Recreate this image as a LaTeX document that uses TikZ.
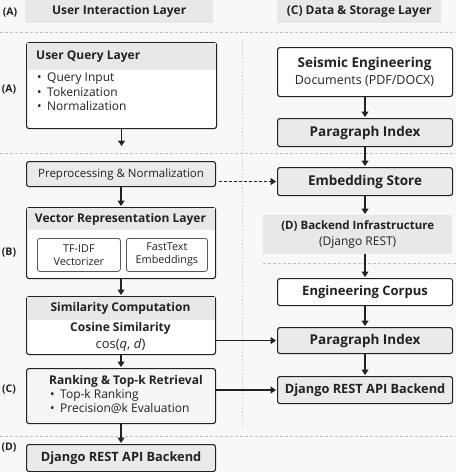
\documentclass[tikz,border=0pt]{standalone}
\usepackage{fontspec}
\setmainfont{Open Sans}
\usetikzlibrary{arrows.meta,positioning,calc}
\definecolor{ink}{RGB}{34,34,34}
\definecolor{paper}{RGB}{248,248,248}
\definecolor{band}{RGB}{232,232,232}
\definecolor{boxgray}{RGB}{234,234,234}
\definecolor{boxlight}{RGB}{245,245,245}
\definecolor{rulegray}{RGB}{192,192,192}
\newcommand{\bulitem}{\makebox[10pt][l]{\textbullet}}
\newcommand{\fsz}[1]{\fontsize{#1}{1.2\dimexpr#1pt\relax}\selectfont}
\tikzset{
  flow/.style={line width=1.2pt,ink,shorten >=1pt,-{Triangle[length=5.5pt,width=7pt]}},
  link/.style={flow,dash pattern=on 3pt off 2pt},
  divider/.style={rulegray,thin,dash pattern=on 3pt off 2pt},
  colrule/.style={rulegray!80,thin,dash pattern=on 1.5pt off 2pt},
  heading/.style={fill=band,inner sep=0pt,anchor=north west,text=ink,
    font=\bfseries\fsz{12}},
  tag/.style={text=ink,font=\bfseries\fsz{10.5}},
  box/.style={draw=ink,line width=1.1pt,rounded corners=2.5pt,fill=white,
    inner sep=0pt,anchor=north west,align=center,text=ink},
  graybox/.style={box,fill=boxgray},
  inbox/.style={box,draw=ink!75,line width=0.8pt,font=\fontsize{10.8}{13}\selectfont},
  title/.style={text=ink,inner sep=0pt,font=\bfseries\fsz{12}},
  bigtitle/.style={font=\bfseries\fsz{13.5}},
  body/.style={text=ink,inner sep=0pt,align=left,font=\fontsize{12}{14.5}\selectfont}
}
\begin{document}
\begin{tikzpicture}[x=1pt,y=-1pt]
  \fill[paper] (0,0) rectangle (456,472);
  \useasboundingbox (0,0) rectangle (456,472);
  % layer headings and dividers
  \node[tag] (tagtop) at (10,13) {(A)};
  \node[heading,minimum width=188pt,minimum height=23pt] (userhead) at (25,0) {User Interaction Layer};
  \node[heading,minimum width=164pt,minimum height=23pt] (datahead) at (277,0) {(C) Data \& Storage Layer};
  \draw[divider] (0,32) -- (456,32);
  \draw[divider] (0,153) -- (456,153);
  \draw[divider] (263,263) -- (456,263);
  \draw[divider] (0,436) -- (456,436);
  \draw[colrule] (242,40) -- (242,427);
  % user interaction column
  \node[box,minimum width=190pt,minimum height=86pt] (query) at (26,42) {};
  \fill[band] ($(query.north west)+(1.2pt,-1.2pt)$) rectangle ($(query.north east)+(-1.2pt,-28pt)$);
  \node[title,anchor=west] (querytitle) at (36,57) {User Query Layer};
  \node[body,anchor=north west] (querylist) at (37,73) {\bulitem Query Input\\\bulitem Tokenization\\\bulitem Normalization};
  \node[tag] (tagA) at (9,90) {(A)};
  \node[graybox,minimum width=189pt,minimum height=25pt,font=\fsz{11.5}] (prep) at (26,161) {Preprocessing \& Normalization};
  \node[box,minimum width=189pt,minimum height=71pt] (vector) at (26,207) {};
  \fill[band] ($(vector.north west)+(1.2pt,-1.2pt)$) rectangle ($(vector.north east)+(-1.2pt,-23pt)$);
  \node[title] (vectortitle) at (120.5,219) {Vector Representation Layer};
  \node[inbox,minimum width=83pt,minimum height=33pt] (tfidf) at (37,238) {TF-IDF\\Vectorizer};
  \node[inbox,minimum width=81pt,minimum height=33pt] (fasttext) at (126,238) {FastText\\Embeddings};
  \node[tag] (tagB) at (9,253) {(B)};
  \node[box,minimum width=189pt,minimum height=58pt] (simil) at (26,296) {};
  \fill[band] ($(simil.north west)+(1.2pt,-1.2pt)$) rectangle ($(simil.north east)+(-1.2pt,-24pt)$);
  \node[title] (similtitle) at (120.5,308) {Similarity Computation};
  \node[title] (cosine) at (120.5,328) {Cosine Similarity};
  \node[body,font=\fsz{13}] (cosfn) at (120.5,345) {cos(\textit{q}, \textit{d})};
  \node[box,fill=boxlight,minimum width=189pt,minimum height=55pt] (rank) at (26,368) {};
  \node[title,anchor=west] (ranktitle) at (49,381) {Ranking \& Top-k Retrieval};
  \node[body,anchor=north west] (ranklist) at (50,389) {\bulitem Top-k Ranking\\\bulitem Precision@k Evaluation};
  \node[tag] (tagC) at (9,390) {(C)};
  \node[graybox,minimum width=189pt,minimum height=27pt,font=\bfseries\fsz{12.8}] (apileft) at (26,444) {Django REST API Backend};
  \node[tag] (tagD) at (9,448) {(D)};
  % data and storage column
  \node[box,minimum width=175pt,minimum height=49pt] (docs) at (277,47) {};
  \node[title,bigtitle] (docstitle) at (364.5,64) {Seismic Engineering};
  \node[body,font=\fsz{12.5}] (docsfmt) at (364.5,81) {Documents (PDF/DOCX)};
  \node[graybox,bigtitle,minimum width=175pt,minimum height=28pt] (paraidx) at (277,118) {Paragraph Index};
  \node[graybox,bigtitle,minimum width=175pt,minimum height=28pt] (embstore) at (277,167) {Embedding Store};
  \node[fill=band,inner sep=0pt,anchor=north west,align=center,text=ink,minimum width=189pt,minimum height=39pt,font=\fontsize{12}{16}\selectfont] (backend) at (263,215) {{\bfseries\fsz{11.5}(D) Backend Infrastructure}\\(Django REST)};
  \node[box,font=\bfseries\fsz{13},minimum width=175pt,minimum height=27pt] (corpus) at (277,278) {Engineering Corpus};
  \node[graybox,bigtitle,minimum width=175pt,minimum height=26pt] (paraidxb) at (277,327) {Paragraph Index};
  \node[graybox,font=\bfseries\fsz{12.8},minimum width=175pt,minimum height=27pt] (apiright) at (277,376) {Django REST API Backend};
  % connectors
  \draw[flow,shorten >=15pt] (query.south) -- (query.south |- prep.north);
  \draw[flow] (prep) -- (vector);
  \draw[flow] (vector) -- (simil);
  \draw[flow] (simil) -- (rank);
  \draw[flow] (rank) -- (apileft);
  \draw[flow] (docs) -- (paraidx);
  \draw[flow] (paraidx) -- (embstore);
  \draw[flow] (embstore.south) -- (embstore.south |- backend.north);
  \draw[flow] (embstore.south |- backend.south) -- (corpus.north);
  \draw[flow] (corpus) -- (paraidxb);
  \draw[flow] (paraidxb) -- (apiright);
  \draw[link] ($(prep.east |- embstore.west)+(3pt,0)$) -- (embstore.west);
  \draw[flow] (simil.east |- paraidxb.west) -- (paraidxb.west);
  \draw[flow] (rank.east |- apiright.west) -- (apiright.west);
\end{tikzpicture}
\end{document}
